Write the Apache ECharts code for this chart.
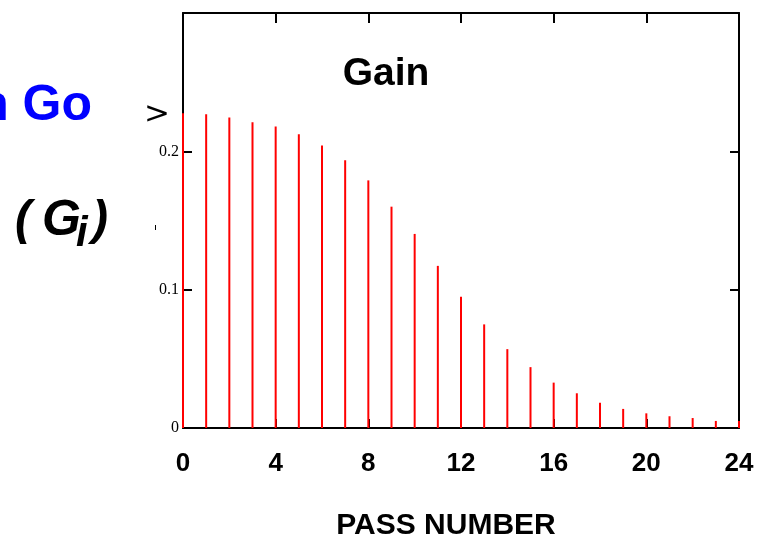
<!DOCTYPE html>
<html>
<head>
<meta charset="utf-8">
<script src="https://cdn.jsdelivr.net/npm/echarts@6/dist/echarts.min.js"></script>
<style>
  html, body { margin: 0; padding: 0; background: #fff; }
  #chart { width: 763px; height: 538px; }
</style>
</head>
<body>
<div id="chart"></div>
<script>
// pass numbers and gain per pass
var passNumbers = [0, 1, 2, 3, 4, 5, 6, 7, 8, 9, 10, 11, 12, 13, 14, 15, 16, 17, 18, 19, 20, 21, 22, 23, 24]
var gainValues = [
  0.2275, 0.2268, 0.2244, 0.2210, 0.2179, 0.2123, 0.2043, 0.1935, 0.1790, 0.1600,
  0.1403, 0.1172, 0.0949, 0.0749, 0.0570, 0.0440, 0.0328, 0.0251, 0.0183, 0.0138,
  0.0106, 0.0085, 0.0072, 0.0051, 0.0050
]
var yTickLabels = { 0: '0', 0.1: '0.1', 0.2: '0.2' }

var chart = echarts.init(document.getElementById('chart'))

var sans = 'Arial, "Liberation Sans", sans-serif'
var serif = '"Times New Roman", "Liberation Serif", serif'

var frameLine = { onZero: false, lineStyle: { color: '#000', width: 2 } }

chart.setOption({
  animation: false,
  backgroundColor: '#fff',
  grid: {
    left: 183,
    right: 24,
    top: 13,
    bottom: 110
  },
  xAxis: [
    {
      type: 'value',
      min: 0,
      max: 24,
      interval: 4,
      axisLine: frameLine,
      axisTick: { inside: true, length: 9, lineStyle: { color: '#000', width: 2 } },
      axisLabel: {
        margin: 23,
        color: '#000',
        fontFamily: sans,
        fontWeight: 'bold',
        fontSize: 26
      },
      splitLine: { show: false }
    },
    {
      type: 'value',
      position: 'top',
      min: 0,
      max: 24,
      interval: 4,
      axisLine: frameLine,
      axisTick: { inside: true, length: 10, lineStyle: { color: '#000', width: 2 } },
      axisLabel: { show: false },
      splitLine: { show: false }
    }
  ],
  yAxis: [
    {
      type: 'value',
      min: 0,
      max: 0.3,
      interval: 0.1,
      axisLine: Object.assign({ show: true }, frameLine),
      axisTick: { show: true, inside: true, length: 9, lineStyle: { color: '#000', width: 2 } },
      axisLabel: {
        margin: 4,
        color: '#000',
        fontFamily: serif,
        fontSize: 16,
        formatter: function(v) {
          var k = Math.round(v * 10) / 10
          return yTickLabels[k] || ''
        }
      },
      splitLine: { show: false }
    },
    {
      type: 'value',
      position: 'right',
      min: 0,
      max: 0.3,
      interval: 0.1,
      axisLine: Object.assign({ show: true }, frameLine),
      axisTick: { show: true, inside: true, length: 9, lineStyle: { color: '#000', width: 2 } },
      axisLabel: { show: false },
      splitLine: { show: false }
    }
  ],
  series: [
    {
      type: 'bar',
      barWidth: 2,
      itemStyle: { color: '#ff0000' },
      data: passNumbers.map(function(p, i) {
        return [p, gainValues[i]]
      })
    }
  ],
  graphic: [
    {
      type: 'text',
      x: 386,
      y: 74,
      style: {
        text: 'Gain',
        fill: '#000',
        font: 'bold 39px ' + sans,
        textAlign: 'center',
        textVerticalAlign: 'middle'
      }
    },
    {
      type: 'text',
      x: 92,
      y: 106,
      style: {
        text: 'n Go',
        fill: '#0000ff',
        font: 'bold 50px ' + sans,
        textAlign: 'right',
        textVerticalAlign: 'middle'
      }
    },
    {
      type: 'text',
      x: 157,
      y: 115,
      style: {
        text: '>',
        fill: '#000',
        font: '31px "DejaVu Sans", sans-serif',
        textAlign: 'center',
        textVerticalAlign: 'middle'
      }
    },
    {
      type: 'text',
      x: 15,
      y: 221,
      style: {
        text: '(',
        fill: '#000',
        font: 'italic bold 48px ' + sans,
        textVerticalAlign: 'middle'
      }
    },
    {
      type: 'text',
      x: 42,
      y: 221,
      style: {
        text: 'G',
        fill: '#000',
        font: 'italic bold 50px ' + sans,
        textVerticalAlign: 'middle'
      }
    },
    {
      type: 'text',
      x: 76,
      y: 234,
      style: {
        text: 'i',
        fill: '#000',
        font: 'italic bold 42px ' + sans,
        textVerticalAlign: 'middle'
      }
    },
    {
      type: 'text',
      x: 92,
      y: 221,
      style: {
        text: ')',
        fill: '#000',
        font: 'italic bold 48px ' + sans,
        textVerticalAlign: 'middle'
      }
    },
    {
      type: 'rect',
      shape: { x: 155, y: 225, width: 1, height: 5 },
      style: { fill: '#000' }
    },
    {
      type: 'text',
      x: 446,
      y: 526,
      style: {
        text: 'PASS NUMBER',
        fill: '#000',
        font: 'bold 30px ' + sans,
        textAlign: 'center',
        textVerticalAlign: 'middle'
      }
    }
  ]
})
</script>
</body>
</html>
